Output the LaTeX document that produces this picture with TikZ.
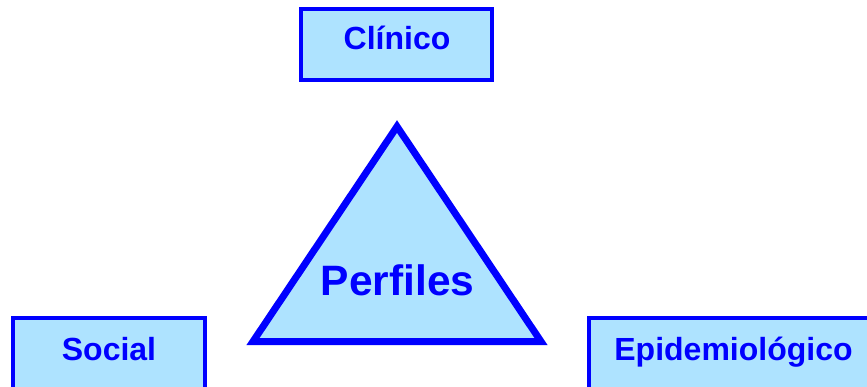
\documentclass[tikz,border=0pt]{standalone}
\usepackage{fontspec}
\setmainfont{Liberation Sans}
\definecolor{fillblue}{RGB}{174,227,255}
\definecolor{lineblue}{RGB}{0,0,255}
\tikzset{
  boxstyle/.style={draw=lineblue, fill=fillblue, line width=4pt},
  tristyle/.style={draw=lineblue, fill=fillblue, line width=7pt, line join=miter},
  labelstyle/.style={text=lineblue, font=\bfseries\fontsize{32}{32}\selectfont, anchor=base, inner sep=0pt},
  biglabel/.style={text=lineblue, font=\bfseries\fontsize{42.5}{42.5}\selectfont, anchor=base, inner sep=0pt}
}
\begin{document}
\begin{tikzpicture}[x=1pt,y=-1pt]
\useasboundingbox (0,0) rectangle (867,387);
\clip (0,0) rectangle (867,387);
\fill[white] (0,0) rectangle (867,387);
% boxes
\draw[boxstyle] (301,9) rectangle (492,80);
\draw[boxstyle] (13,318) rectangle (205,400);
\draw[boxstyle] (589,318) rectangle (885,400);
% triangle
\draw[tristyle] (253,341.5) -- (541,341.5) -- (397,126.5) -- cycle;
% labels
\node[labelstyle] (clinico) at (397,50) {Clínico};
\node[labelstyle] (social) at (109,360) {Social};
\node[labelstyle] (epi) at (733.5,360) {Epidemiológico};
\node[biglabel] (perfiles) at (397.5,295.5) {Perfiles};
\end{tikzpicture}
\end{document}
